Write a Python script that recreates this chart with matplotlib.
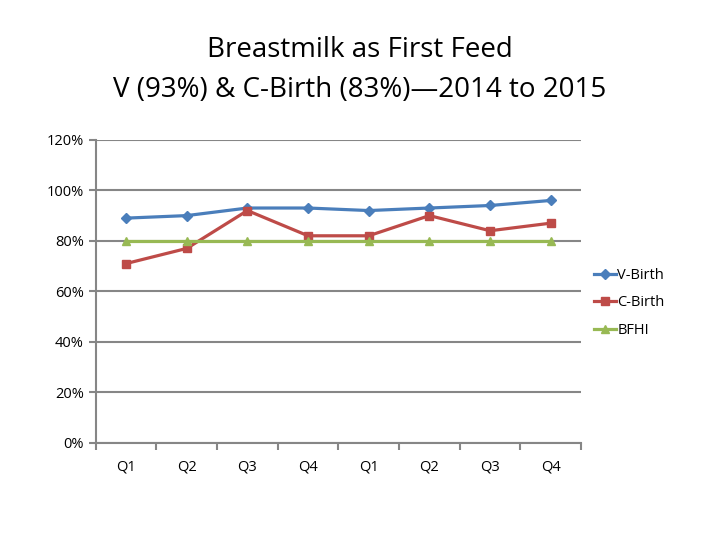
import numpy as np
import matplotlib.pyplot as plt

quarters = ['Q1', 'Q2', 'Q3', 'Q4', 'Q1', 'Q2', 'Q3', 'Q4']
v_birth = [89, 90, 93, 93, 92, 93, 94, 96]
c_birth = [71, 77, 92, 82, 82, 90, 84, 87]
bfhi = [80, 80, 80, 80, 80, 80, 80, 80]

plt.rcParams['font.family'] = ['Open Sans', 'DejaVu Sans']

fig = plt.figure(figsize=(7.2, 5.4), dpi=100)
ax = fig.add_axes([0.133, 0.18, 0.674, 0.561])

x = np.arange(len(quarters))
ax.plot(x, v_birth, color='#4a7ebb', lw=2.3, marker='D', ms=5, label='V-Birth')
ax.plot(x, c_birth, color='#be4b48', lw=2.3, marker='s', ms=6, label='C-Birth')
ax.plot(x, bfhi, color='#98b954', lw=2.3, marker='^', ms=6, label='BFHI')

ax.set_xlim(-0.5, len(quarters) - 0.5)
ax.set_ylim(0, 120)
ax.set_yticks(range(0, 121, 20))
ax.set_yticklabels(['%d%%' % v for v in range(0, 121, 20)], fontsize=10.5)
ax.set_xticks(x)
ax.set_xticklabels(quarters, fontsize=10.5)
ax.set_xticks(np.arange(-0.5, len(quarters), 1), minor=True)
ax.tick_params(axis='x', which='major', length=0, pad=12)
ax.tick_params(axis='x', which='minor', length=5, color='#868686', width=1.5)
ax.tick_params(axis='y', length=5, color='#868686', width=1.5)
ax.yaxis.grid(True, color='#868686', lw=1.5)
ax.set_axisbelow(True)
for s in ['top', 'right']:
    ax.spines[s].set_visible(False)
for s in ['left', 'bottom']:
    ax.spines[s].set_color('#868686')
    ax.spines[s].set_linewidth(1.5)

ax.legend(loc='center left', bbox_to_anchor=(1.0, 0.462), frameon=False,
          fontsize=10.5, handlelength=1.5, handletextpad=0.1, labelspacing=0.85)

fig.text(0.5, 0.907, 'Breastmilk as First Feed', ha='center', va='center', fontsize=20)
fig.text(0.5, 0.833, 'V (93%) & C-Birth (83%)\u20142014 to 2015', ha='center', va='center', fontsize=20)

fig.savefig('out.png', dpi=100)
